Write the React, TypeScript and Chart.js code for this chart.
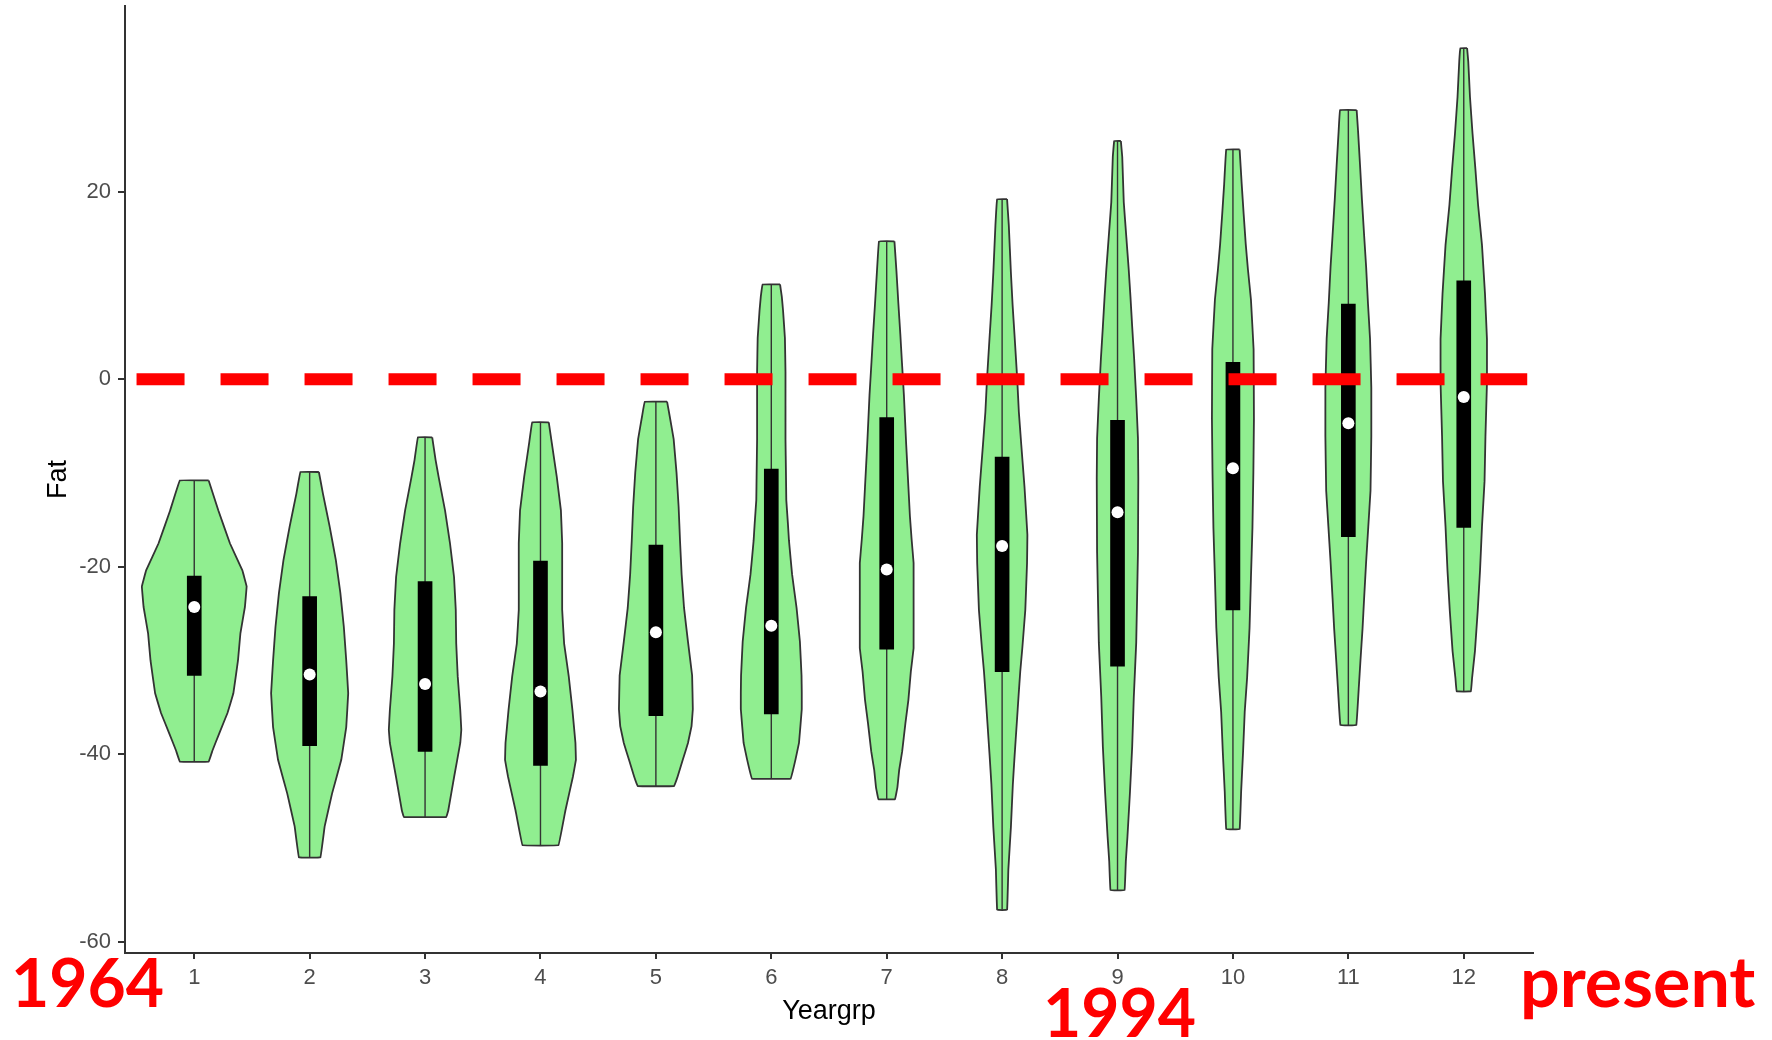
import { useEffect, useRef } from 'react';
import { Chart, registerables } from 'chart.js';

Chart.register(...registerables);

// Year groups on the x axis
const groups = [1, 2, 3, 4, 5, 6, 7, 8, 9, 10, 11, 12];
const xTickLabels = ['1', '2', '3', '4', '5', '6', '7', '8', '9', '10', '11', '12'];

const yTicks = [-60, -40, -20, 0, 20];
const yTickLabels = ['-60', '-40', '-20', '0', '20'];

// Violin outlines: Fat values (top to bottom) for each group
const violinFat = [
  [-10.8, -14.0, -17.5, -20.4, -22.1, -24.3, -27.1, -30.0, -33.5, -35.6, -37.8, -39.6, -40.8],
  [-9.9, -12.2, -15.7, -19.3, -22.8, -26.4, -30.0, -33.5, -37.1, -40.6, -44.2, -47.7, -51.0],
  [-6.2, -8.6, -10.4, -14.0, -17.5, -21.1, -24.6, -28.2, -31.7, -35.3, -37.4, -38.8, -42.4, -46.0, -46.7],
  [-4.6, -6.8, -10.4, -14.0, -17.5, -21.1, -24.6, -28.2, -31.7, -35.3, -38.8, -40.6, -42.4, -46.0, -49.7],
  [-2.4, -3.9, -6.4, -10.0, -13.6, -17.2, -20.8, -24.4, -28.0, -31.6, -35.2, -37.0, -38.8, -40.6, -42.4, -43.4],
  [10.1, 8.8, 7.3, 4.4, 0.8, -2.8, -6.4, -10.0, -12.9, -15.4, -17.2, -20.8, -24.4, -28.0, -31.6, -33.4, -35.2, -38.8, -40.6, -42.6],
  [14.7, 11.6, 8.1, 4.8, 1.8, -1.7, -7.0, -11.5, -14.6, -17.1, -19.6, -22.6, -28.7, -31.2, -34.2, -36.7, -39.7, -41.7, -43.5, -44.8],
  [19.2, 16.4, 11.4, 7.9, 4.6, 0.0, -3.5, -7.0, -11.5, -16.6, -19.6, -24.6, -28.7, -31.2, -33.7, -36.7, -40.2, -43.2, -47.8, -52.3, -56.6],
  [25.4, 23.7, 18.9, 15.2, 11.7, 8.8, 5.6, 2.2, -2.1, -6.3, -10.6, -18.5, -28.1, -33.9, -39.2, -44.0, -48.8, -51.4, -54.5],
  [24.5, 20.8, 17.6, 14.4, 11.7, 8.5, 3.2, -4.2, -10.0, -15.9, -21.2, -26.5, -31.8, -35.5, -39.7, -44.0, -48.0],
  [28.7, 26.5, 22.9, 19.1, 15.3, 12.0, 8.1, 4.3, -0.9, -6.1, -11.9, -15.7, -19.5, -23.3, -26.6, -30.0, -32.8, -36.9],
  [35.3, 33.9, 30.1, 26.2, 22.4, 18.6, 14.3, 9.1, 4.3, -0.4, -6.1, -10.9, -15.7, -20.4, -24.7, -29.0, -31.9, -33.3],
];

// Violin half-widths (in Yeargrp units) at the Fat values above
const violinHalfWidth = [
  [0.125, 0.209, 0.309, 0.417, 0.454, 0.439, 0.400, 0.379, 0.339, 0.288, 0.216, 0.158, 0.125],
  [0.080, 0.115, 0.173, 0.227, 0.266, 0.296, 0.317, 0.334, 0.317, 0.274, 0.194, 0.130, 0.093],
  [0.062, 0.091, 0.117, 0.173, 0.216, 0.251, 0.266, 0.270, 0.283, 0.305, 0.314, 0.305, 0.252, 0.201, 0.184],
  [0.072, 0.098, 0.141, 0.177, 0.188, 0.188, 0.188, 0.205, 0.245, 0.277, 0.303, 0.307, 0.281, 0.216, 0.156],
  [0.097, 0.119, 0.154, 0.179, 0.197, 0.209, 0.223, 0.244, 0.278, 0.314, 0.320, 0.309, 0.278, 0.233, 0.188, 0.158],
  [0.076, 0.091, 0.102, 0.118, 0.123, 0.123, 0.123, 0.127, 0.130, 0.144, 0.153, 0.180, 0.219, 0.248, 0.262, 0.264, 0.264, 0.240, 0.209, 0.169],
  [0.067, 0.084, 0.101, 0.118, 0.132, 0.149, 0.169, 0.188, 0.201, 0.216, 0.233, 0.233, 0.233, 0.209, 0.188, 0.162, 0.134, 0.108, 0.093, 0.072],
  [0.043, 0.058, 0.076, 0.091, 0.108, 0.131, 0.145, 0.166, 0.194, 0.219, 0.216, 0.201, 0.175, 0.157, 0.143, 0.127, 0.108, 0.093, 0.076, 0.054, 0.043],
  [0.029, 0.041, 0.054, 0.076, 0.097, 0.112, 0.127, 0.144, 0.162, 0.177, 0.180, 0.177, 0.162, 0.141, 0.127, 0.108, 0.086, 0.072, 0.061],
  [0.058, 0.076, 0.093, 0.111, 0.130, 0.156, 0.179, 0.182, 0.177, 0.169, 0.156, 0.144, 0.123, 0.102, 0.088, 0.071, 0.058],
  [0.072, 0.084, 0.101, 0.118, 0.137, 0.154, 0.170, 0.188, 0.199, 0.199, 0.192, 0.173, 0.154, 0.137, 0.123, 0.105, 0.091, 0.069],
  [0.029, 0.039, 0.054, 0.076, 0.101, 0.124, 0.158, 0.184, 0.201, 0.201, 0.188, 0.180, 0.158, 0.141, 0.121, 0.097, 0.072, 0.062],
];

// Inner box (quartiles) and median per group
const boxQ3 = [-21.0, -23.2, -21.6, -19.4, -17.7, -9.6, -4.1, -8.3, -4.4, 1.8, 8.0, 10.5];
const boxQ1 = [-31.6, -39.1, -39.7, -41.2, -35.9, -35.7, -28.8, -31.2, -30.6, -24.6, -16.8, -15.8];
const medians = [-24.3, -31.5, -32.5, -33.3, -27.0, -26.3, -20.3, -17.8, -14.2, -9.5, -4.7, -1.9];

// Reference line at zero
const referenceFat = 0;
const referenceSpan = [0.5, 12.55];

const eraLabels = ['1964', '1994', 'present'];

const AXIS_COLOR = '#333333';
const TICK_TEXT = '#4D4D4D';
const FONT = "'Liberation Sans', Arial, sans-serif";

const eraLabelPlugin = {
  id: 'eraLabels',
  afterDraw(chart: any) {
    const { ctx } = chart;
    const x = chart.scales.x;
    ctx.save();
    ctx.fillStyle = '#FF0000';
    ctx.textBaseline = 'alphabetic';
    ctx.font = "bold 66px Lato, 'Open Sans', sans-serif";
    ctx.textAlign = 'left';
    ctx.fillText(eraLabels[0], 11, 1007);
    ctx.textAlign = 'center';
    ctx.fillText(eraLabels[1], x.getPixelForValue(9) + 2, 1037);
    ctx.font = "bold 70px Lato, 'Open Sans', sans-serif";
    ctx.textAlign = 'left';
    ctx.fillText(eraLabels[2], 1520, 1007);
    ctx.restore();
  },
};

export default function App() {
  const canvasRef = useRef<HTMLCanvasElement | null>(null);

  useEffect(() => {
    const canvas = canvasRef.current;
    if (!canvas) return;

    // Closed outline: right edge downwards, left edge back up.
    // A tiny tension keeps Chart.js off its x-bucketing fast path, which
    // would distort these near-vertical outlines.
    const violins = groups.map((g, i) => {
      const fat = violinFat[i];
      const hw = violinHalfWidth[i];
      const right = fat.map((y, k) => ({ x: g + hw[k], y }));
      const left = fat.map((y, k) => ({ x: g - hw[k], y })).reverse();
      return {
        type: 'line',
        data: [...right, ...left, right[0]],
        borderColor: AXIS_COLOR,
        borderWidth: 1.8,
        borderJoinStyle: 'miter',
        backgroundColor: '#90EE90',
        fill: 'shape',
        pointRadius: 0,
        tension: 0.03,
        order: 5,
      };
    });

    const whiskers = groups.map((g, i) => {
      const fat = violinFat[i];
      return {
        type: 'line',
        data: [
          { x: g, y: fat[0] },
          { x: g, y: fat[fat.length - 1] },
        ],
        borderColor: AXIS_COLOR,
        borderWidth: 1.4,
        pointRadius: 0,
        fill: false,
        order: 4,
      };
    });

    const boxes = {
      type: 'bar',
      data: groups.map((g, i) => ({ x: g, y: [boxQ1[i], boxQ3[i]] })),
      backgroundColor: '#000000',
      borderWidth: 0,
      barThickness: 14,
      order: 3,
    };

    const medianPoints = {
      type: 'line',
      data: groups.map((g, i) => ({ x: g, y: medians[i] })),
      showLine: false,
      pointStyle: 'circle',
      pointRadius: 6,
      pointBackgroundColor: '#FFFFFF',
      pointBorderWidth: 0,
      order: 2,
    };

    const reference = {
      type: 'line',
      data: referenceSpan.map((x) => ({ x, y: referenceFat })),
      borderColor: '#FF0000',
      borderWidth: 12,
      borderDash: [48, 36],
      borderCapStyle: 'butt',
      pointRadius: 0,
      fill: false,
      order: 0,
    };

    const chart = new Chart(canvas, {
      type: 'line',
      data: {
        datasets: [reference, medianPoints, boxes, ...whiskers, ...violins] as any,
      },
      options: {
        animation: false,
        responsive: false,
        devicePixelRatio: 1,
        events: [],
        layout: { padding: { top: 6, right: 239, left: 0, bottom: 0 } },
        plugins: {
          legend: { display: false },
          tooltip: { enabled: false },
        },
        scales: {
          x: {
            type: 'linear',
            min: 0.4,
            max: 12.6,
            offset: false,
            afterBuildTicks: (scale: any) => {
              scale.ticks = groups.map((value) => ({ value }));
            },
            afterFit: (scale: any) => {
              scale.height = 87;
              scale.paddingLeft = 0;
              scale.paddingRight = 0;
            },
            ticks: {
              autoSkip: false,
              maxRotation: 0,
              padding: 6,
              color: TICK_TEXT,
              font: { family: FONT, size: 22 },
              callback: (_v: any, i: number) => xTickLabels[i],
            },
            grid: {
              display: true,
              offset: false,
              drawOnChartArea: false,
              drawTicks: true,
              tickLength: 6,
              color: AXIS_COLOR,
              lineWidth: 2,
            },
            border: { display: true, color: AXIS_COLOR, width: 2 },
            title: {
              display: true,
              text: 'Yeargrp',
              color: '#000000',
              font: { family: FONT, size: 27 },
              padding: { top: 0, bottom: 12 },
            },
          },
          y: {
            type: 'linear',
            min: -61.2,
            max: 39.8,
            afterBuildTicks: (scale: any) => {
              scale.ticks = yTicks.map((value) => ({ value }));
            },
            afterFit: (scale: any) => {
              scale.width = 125;
              scale.paddingTop = 0;
              scale.paddingBottom = 0;
            },
            ticks: {
              padding: 7,
              color: TICK_TEXT,
              font: { family: FONT, size: 22 },
              callback: (_v: any, i: number) => yTickLabels[i],
            },
            grid: {
              display: true,
              drawOnChartArea: false,
              drawTicks: true,
              tickLength: 7,
              color: AXIS_COLOR,
              lineWidth: 2,
            },
            border: { display: true, color: AXIS_COLOR, width: 2 },
            title: {
              display: true,
              text: 'Fat',
              color: '#000000',
              font: { family: FONT, size: 27 },
              padding: { top: 42, bottom: 0 },
            },
          },
        },
      },
      plugins: [eraLabelPlugin],
    } as any);

    return () => chart.destroy();
  }, []);

  return (
    <div style={{ position: 'absolute', left: 0, top: 0, width: 1772, height: 1040, background: '#FFFFFF' }}>
      <canvas ref={canvasRef} width={1772} height={1040} style={{ display: 'block' }} />
    </div>
  );
}
